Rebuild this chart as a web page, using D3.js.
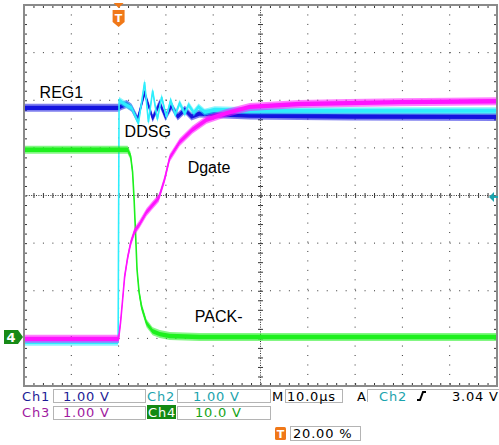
<!DOCTYPE html>
<html>
<head>
<meta charset="utf-8">
<script src="https://cdn.jsdelivr.net/npm/d3@7"></script>
<style>
  html, body { margin: 0; padding: 0; background: #fff; }
  svg { display: block; }
  .panel { font-family: "DejaVu Sans", sans-serif; font-size: 13px; letter-spacing: 0.8px; }
  .trace-label { font-family: "Liberation Sans", Arial, sans-serif; font-size: 16px; fill: #000; }
</style>
</head>
<body>
<div id="chart"></div>
<script>
// Scope screen: time in µs (10 µs/div, trigger at 20 %), vertical in divisions
const timeDomain = [-20, 80];
const divDomain = [-4, 4];

// Ch1 REG1 (blue)
const reg1 = [
  [-20, 1.84], [0, 1.84], [0.6, 1.88], [1.7, 1.92], [2.75, 1.84], [4.0, 1.6],
  [5.5, 2.15], [7.2, 1.62], [8.7, 1.94], [9.9, 1.65], [11.2, 1.88], [12.5, 1.66],
  [14.0, 1.8], [15.4, 1.66], [17.1, 1.72], [27.7, 1.68], [48.8, 1.66], [80, 1.65]
];

// Ch2 DDSG (cyan)
const ddsg = [
  [-20, -3.08], [-0.1, -3.08], [0.1, 2.0], [1.27, 1.92], [2.75, 1.84], [4.2, 1.52],
  [5.5, 2.38], [6.3, 1.54], [7.2, 2.2], [8.2, 1.6], [9.1, 2.07], [10.1, 1.65],
  [11.0, 2.0], [12.0, 1.7], [12.9, 1.94], [14.0, 1.72], [14.8, 1.9], [15.9, 1.74],
  [16.9, 1.86], [18.2, 1.75], [20.3, 1.8], [27.7, 1.78], [80, 1.78]
];

// Ch3 Dgate (magenta)
const dgate = [
  [-20, -3.01], [0, -3.01], [0.42, -2.66], [0.85, -2.19], [1.27, -1.71], [1.9, -1.31],
  [2.54, -1.0], [3.38, -0.75], [4.44, -0.6], [5.9, -0.35], [7.2, -0.2], [8.5, -0.05],
  [9.7, 0.33], [10.8, 0.79], [12.9, 1.12], [15.6, 1.38], [18.6, 1.59], [22.8, 1.73],
  [27.7, 1.86], [38.3, 1.92], [48.8, 1.94], [59.4, 1.96], [80, 1.98]
];

// Ch4 PACK- (green)
const packMinus = [
  [-20, 0.96], [1.9, 0.96], [2.54, 0.83], [2.96, 0.49], [3.28, -0.09], [3.6, -0.83],
  [3.9, -1.56], [4.33, -2.03], [4.86, -2.34], [5.9, -2.68], [7.2, -2.85], [8.7, -2.91],
  [10.8, -2.95], [17.1, -2.97], [80, -2.97]
];

const traceLabels = [
  { text: "REG1", t: -16.7, d: 2.05 },
  { text: "DDSG", t: 1.27, d: 1.23 },
  { text: "Dgate", t: 14.6, d: 0.47 },
  { text: "PACK-", t: 16.1, d: -2.66 }
];

const ch4Ground = -2.97;
const trigLevel = -0.03;

const width = 499, height = 445;
const svg = d3.select("#chart").append("svg")
  .attr("width", width).attr("height", height);

svg.append("rect").attr("width", width).attr("height", height).attr("fill", "#fff");

const x = d3.scaleLinear().domain(timeDomain).range([24, 497]);
const y = d3.scaleLinear().domain(divDomain).range([386, 5]);
const minorT = (x(10) - x(0)) / 5;

// ---- GRID ----
const grid = svg.append("g");
d3.range(-10, 80, 10).filter(t => t !== 30).forEach(t => {
  grid.append("line")
    .attr("x1", x(t)).attr("x2", x(t)).attr("y1", y(4)).attr("y2", y(-4))
    .attr("stroke", "#333").attr("stroke-width", 1)
    .attr("stroke-dasharray", `1 ${minorT - 1}`);
});
d3.range(-3, 4, 1).filter(d => d !== 0).forEach(d => {
  grid.append("line")
    .attr("x1", x(-20)).attr("x2", x(80)).attr("y1", y(d)).attr("y2", y(d))
    .attr("stroke", "#333").attr("stroke-width", 1)
    .attr("stroke-dasharray", `1 ${minorT - 1}`);
});

// centre cross with fine dots
grid.append("line")
  .attr("x1", x(30)).attr("x2", x(30)).attr("y1", y(4)).attr("y2", y(-4))
  .attr("stroke", "#333").attr("stroke-dasharray", "1 1.4");
grid.append("line")
  .attr("x1", x(-20)).attr("x2", x(80)).attr("y1", y(0)).attr("y2", y(0))
  .attr("stroke", "#333").attr("stroke-dasharray", "1 1.4");

const minorTimes = d3.range(-20, 80.01, 2);
const minorDivs = d3.range(-4, 4.01, 0.2);

// ticks on centre cross and frame edges (axes without labels)
function tickRow(axis, tx, ty, size) {
  grid.append("g").attr("transform", `translate(${tx},${ty})`)
    .call(axis.tickSize(size).tickFormat("").tickSizeOuter(0))
    .call(g => g.select(".domain").remove());
}
tickRow(d3.axisBottom(x).tickValues(minorTimes), 0, y(0), 2.5);
tickRow(d3.axisTop(x).tickValues(minorTimes), 0, y(0), 2.5);
tickRow(d3.axisLeft(y).tickValues(minorDivs), x(30), 0, 2.5);
tickRow(d3.axisRight(y).tickValues(minorDivs), x(30), 0, 2.5);
tickRow(d3.axisBottom(x).tickValues(minorTimes), 0, y(4), 3);
tickRow(d3.axisTop(x).tickValues(minorTimes), 0, y(-4), 3);
tickRow(d3.axisRight(y).tickValues(minorDivs), x(-20), 0, 3);
tickRow(d3.axisLeft(y).tickValues(minorDivs), x(80), 0, 3);

grid.selectAll(".tick line").attr("stroke", "#333");

// ---- TRACES ----
function drawTrace(data, color, half) {
  const band = d3.area()
    .x(d => x(d[0]))
    .y0(d => y(d[1]) + half)
    .y1(d => y(d[1]) - half);
  const core = d3.area()
    .x(d => x(d[0]))
    .y0(d => y(d[1]) + half * 0.55)
    .y1(d => y(d[1]) - half * 0.55);
  const line = d3.line().x(d => x(d[0])).y(d => y(d[1]));
  svg.append("path").datum(data).attr("d", band).attr("fill", color).attr("opacity", 0.55);
  svg.append("path").datum(data).attr("d", core).attr("fill", color);
  svg.append("path").datum(data).attr("d", line)
    .attr("fill", "none").attr("stroke", color).attr("stroke-width", 1.6);
}

drawTrace(reg1, "#1414e0", 4);
drawTrace(ddsg, "#2eeefc", 3.5);
drawTrace(packMinus, "#1ef01e", 4);
drawTrace(dgate, "#ff14ff", 4);

// ---- FRAME ----
svg.append("rect")
  .attr("x", x(-20)).attr("y", y(4))
  .attr("width", x(80) - x(-20)).attr("height", y(-4) - y(4))
  .attr("fill", "none").attr("stroke", "#8a8a8a").attr("stroke-width", 2);

// ---- LABELS ----
svg.selectAll(".trace-label").data(traceLabels).join("text")
  .attr("class", "trace-label")
  .attr("x", d => x(d.t)).attr("y", d => y(d.d))
  .text(d => d.text);

// trigger position marker (top)
const tx = x(0);
svg.append("path")
  .attr("d", `M${tx - 5},3 L${tx + 5},3 L${tx},8 Z`)
  .attr("fill", "#f07818");
svg.append("path")
  .attr("d", `M${tx - 6},10 L${tx + 6},10 L${tx + 6},22 L${tx},27 L${tx - 6},22 Z`)
  .attr("fill", "#f07818");
svg.append("text").attr("x", tx).attr("y", 22)
  .attr("text-anchor", "middle").attr("fill", "#fff")
  .attr("font-family", "DejaVu Sans, sans-serif").attr("font-weight", "bold").attr("font-size", 11)
  .text("T");

// Ch4 ground marker (left)
const gy = y(ch4Ground);
svg.append("path")
  .attr("d", `M4,${gy - 7} L18,${gy - 7} L23,${gy} L18,${gy + 7} L4,${gy + 7} Z`)
  .attr("fill", "#178a17");
svg.append("text").attr("x", 11).attr("y", gy + 5)
  .attr("text-anchor", "middle").attr("fill", "#fff")
  .attr("font-family", "DejaVu Sans, sans-serif").attr("font-weight", "bold").attr("font-size", 13)
  .text("4");

// trigger level marker (right)
const ly = y(trigLevel);
svg.append("path")
  .attr("d", `M489,${ly} L494,${ly - 5} L494,${ly + 5} Z`)
  .attr("fill", "#1aa3ad");
svg.append("line").attr("x1", 492).attr("x2", 498).attr("y1", ly).attr("y2", ly)
  .attr("stroke", "#1aa3ad").attr("stroke-width", 2);

// ---- READOUT PANEL ----
const panel = svg.append("g").attr("class", "panel");
const boxes = [
  { x: 53, y: 389, w: 92, h: 13 },
  { x: 177, y: 389, w: 93, h: 13 },
  { x: 285, y: 389, w: 57, h: 13 },
  { x: 53, y: 406, w: 92, h: 13 },
  { x: 177, y: 406, w: 93, h: 13 },
  { x: 290, y: 426, w: 70, h: 14 }
];
panel.selectAll("rect.box").data(boxes).join("rect")
  .attr("class", "box")
  .attr("x", d => d.x + 0.5).attr("y", d => d.y + 0.5)
  .attr("width", d => d.w).attr("height", d => d.h)
  .attr("fill", "#fff").attr("stroke", "#b4b4b4");

// trigger source box (open at right/bottom)
panel.append("path").attr("d", "M367.5,402 V389.5 H499")
  .attr("fill", "none").attr("stroke", "#b4b4b4");

// Ch4 highlighted label
panel.append("rect").attr("x", 147).attr("y", 405).attr("width", 29).attr("height", 14)
  .attr("fill", "#138a13");

const texts = [
  { text: "Ch1", x: 22, y: 400.5, c: "#1c1c96" },
  { text: "1.00 V", x: 63, y: 400.5, c: "#1c1c96" },
  { text: "Ch2", x: 147, y: 400.5, c: "#1aa3ad" },
  { text: "1.00 V", x: 193, y: 400.5, c: "#1aa3ad" },
  { text: "M", x: 272, y: 400.5, c: "#000" },
  { text: "10.0µs", x: 287, y: 400.5, c: "#000" },
  { text: "A", x: 357, y: 400.5, c: "#000" },
  { text: "Ch2", x: 379, y: 400.5, c: "#1aa3ad" },
  { text: "3.04 V", x: 452, y: 400.5, c: "#000" },
  { text: "Ch3", x: 22, y: 417, c: "#a01aa0" },
  { text: "1.00 V", x: 63, y: 417, c: "#a01aa0" },
  { text: "Ch4", x: 148, y: 417, c: "#fff" },
  { text: "10.0 V", x: 195, y: 417, c: "#17a317" },
  { text: "20.00 %", x: 293, y: 438, c: "#000" }
];
panel.selectAll("text").data(texts).join("text")
  .attr("x", d => d.x).attr("y", d => d.y).attr("fill", d => d.c)
  .text(d => d.text);

// rising slope symbol
panel.append("path").attr("d", "M417,400 L420,400 L423,392 L426,392")
  .attr("fill", "none").attr("stroke", "#000").attr("stroke-width", 2);

// trigger position readout icon
panel.append("rect").attr("x", 275).attr("y", 427).attr("width", 11).attr("height", 13)
  .attr("rx", 1.5).attr("fill", "#f07818");
panel.append("text").attr("x", 280.5).attr("y", 438)
  .attr("text-anchor", "middle").attr("fill", "#fff").attr("font-weight", "bold")
  .attr("font-size", 11).attr("letter-spacing", 0)
  .text("T");
</script>
</body>
</html>
